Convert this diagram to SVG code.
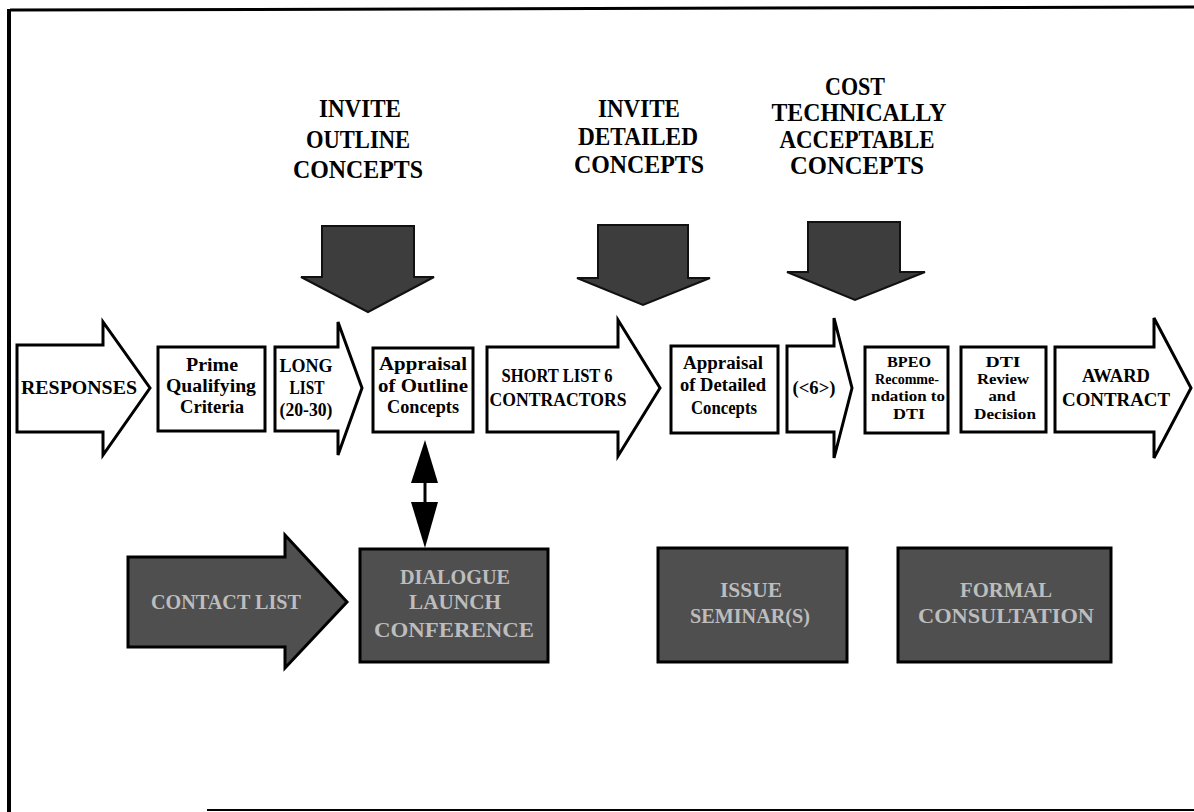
<svg xmlns="http://www.w3.org/2000/svg" width="1194" height="812" viewBox="0 0 1194 812">
<defs>
<style>
.frame{stroke:#000;fill:none}
.wshape{fill:#fff;stroke:#000;stroke-width:3;stroke-linejoin:miter}
.dshape{fill:#4f4f4f;stroke:#000;stroke-width:3}
.darrow{fill:#3d3d3d;stroke:#111;stroke-width:2}
.t{font-family:"Liberation Serif","Times New Roman",serif;font-weight:bold;fill:#000;text-anchor:middle;dominant-baseline:central}
.m{font-size:18px}
.s{font-size:15px}
.h{font-size:25px}
.l{font-family:"Liberation Serif","Times New Roman",serif;font-weight:bold;fill:#bdbdbd;text-anchor:middle;dominant-baseline:central;font-size:21px}
</style>
</defs>
<rect width="1194" height="812" fill="#fff"/>
<g id="frame">
<line class="frame" x1="10" y1="10" x2="1194" y2="7" stroke-width="3"/>
<line class="frame" x1="9" y1="9" x2="9" y2="812" stroke-width="4"/>
<line class="frame" x1="207" y1="810" x2="1194" y2="810" stroke-width="2"/>
</g>
<g id="label-outline">
<text class="t h" x="360" y="108" textLength="82" lengthAdjust="spacingAndGlyphs">INVITE</text>
<text class="t h" x="358" y="139" textLength="104" lengthAdjust="spacingAndGlyphs">OUTLINE</text>
<text class="t h" x="358" y="169" textLength="130" lengthAdjust="spacingAndGlyphs">CONCEPTS</text>
</g>
<g id="label-detailed">
<text class="t h" x="639" y="108" textLength="82" lengthAdjust="spacingAndGlyphs">INVITE</text>
<text class="t h" x="638" y="136" textLength="120" lengthAdjust="spacingAndGlyphs">DETAILED</text>
<text class="t h" x="639" y="164" textLength="130" lengthAdjust="spacingAndGlyphs">CONCEPTS</text>
</g>
<g id="label-cost">
<text class="t h" x="855" y="86" textLength="60" lengthAdjust="spacingAndGlyphs">COST</text>
<text class="t h" x="859" y="112" textLength="175" lengthAdjust="spacingAndGlyphs">TECHNICALLY</text>
<text class="t h" x="857" y="139" textLength="155" lengthAdjust="spacingAndGlyphs">ACCEPTABLE</text>
<text class="t h" x="857" y="165" textLength="134" lengthAdjust="spacingAndGlyphs">CONCEPTS</text>
</g>
<g id="down-arrow-1"><path class="darrow" d="M322,226 H414 V277 H434 L368,312 L301,277 H322 Z"/></g>
<g id="down-arrow-2"><path class="darrow" d="M598,225 H688 V278 H710 L643,305 L577,278 H598 Z"/></g>
<g id="down-arrow-3"><path class="darrow" d="M808,222 H900 V272 H925 L855,300 L787,272 H808 Z"/></g>
<g id="responses">
<path class="wshape" d="M17,345 H103 V322 L150,388 L103,455 V432 H17 Z"/>
<text class="t m" x="79" y="388" textLength="116" lengthAdjust="spacingAndGlyphs">RESPONSES</text>
</g>
<g id="prime">
<rect class="wshape" x="158" y="347" width="107" height="84"/>
<text class="t m" x="212" y="365" textLength="52" lengthAdjust="spacingAndGlyphs">Prime</text>
<text class="t m" x="211" y="386" textLength="90" lengthAdjust="spacingAndGlyphs">Qualifying</text>
<text class="t m" x="212" y="407" textLength="64" lengthAdjust="spacingAndGlyphs">Criteria</text>
</g>
<g id="longlist">
<path class="wshape" d="M275,347 H338 V322 L362,388 L338,455 V431 H275 Z"/>
<text class="t m" x="306" y="366" textLength="53" lengthAdjust="spacingAndGlyphs">LONG</text>
<text class="t m" x="307" y="388" textLength="35" lengthAdjust="spacingAndGlyphs">LIST</text>
<text class="t m" x="306" y="410" textLength="53" lengthAdjust="spacingAndGlyphs">(20-30)</text>
</g>
<g id="appraisal-outline">
<rect class="wshape" x="373" y="348" width="100" height="84"/>
<text class="t m" x="423" y="364" textLength="88" lengthAdjust="spacingAndGlyphs">Appraisal</text>
<text class="t m" x="423" y="386" textLength="90" lengthAdjust="spacingAndGlyphs">of Outline</text>
<text class="t m" x="423" y="407" textLength="72" lengthAdjust="spacingAndGlyphs">Concepts</text>
</g>
<g id="shortlist">
<path class="wshape" d="M487,347 H618 V320 L660,388 L618,456 V432 H487 Z"/>
<text class="t m" x="557" y="376" textLength="111" lengthAdjust="spacingAndGlyphs">SHORT LIST 6</text>
<text class="t m" x="558" y="400" textLength="137" lengthAdjust="spacingAndGlyphs">CONTRACTORS</text>
</g>
<g id="appraisal-detailed">
<rect class="wshape" x="671" y="346" width="107" height="87"/>
<text class="t m" x="723" y="363" textLength="80" lengthAdjust="spacingAndGlyphs">Appraisal</text>
<text class="t m" x="723" y="385" textLength="86" lengthAdjust="spacingAndGlyphs">of Detailed</text>
<text class="t m" x="724" y="408" textLength="66" lengthAdjust="spacingAndGlyphs">Concepts</text>
</g>
<g id="lt6">
<path class="wshape" d="M787,346 H834 V318 L852,388 L834,458 V432 H787 Z"/>
<text class="t m" x="814" y="388" textLength="43" lengthAdjust="spacingAndGlyphs">(&lt;6&gt;)</text>
</g>
<g id="bpeo">
<rect class="wshape" x="865" y="347" width="83" height="86"/>
<text class="t s" x="909" y="362" textLength="44" lengthAdjust="spacingAndGlyphs">BPEO</text>
<text class="t s" x="907" y="379" textLength="64" lengthAdjust="spacingAndGlyphs">Recomme-</text>
<text class="t s" x="908" y="396" textLength="74" lengthAdjust="spacingAndGlyphs">ndation to</text>
<text class="t s" x="909" y="414" textLength="32" lengthAdjust="spacingAndGlyphs">DTI</text>
</g>
<g id="dti-review">
<rect class="wshape" x="961" y="347" width="85" height="85"/>
<text class="t s" x="1003" y="362" textLength="35" lengthAdjust="spacingAndGlyphs">DTI</text>
<text class="t s" x="1003" y="379" textLength="52" lengthAdjust="spacingAndGlyphs">Review</text>
<text class="t s" x="1002" y="396" textLength="27" lengthAdjust="spacingAndGlyphs">and</text>
<text class="t s" x="1005" y="414" textLength="62" lengthAdjust="spacingAndGlyphs">Decision</text>
</g>
<g id="award">
<path class="wshape" d="M1055,347 H1154 V318 L1191,388 L1154,458 V432 H1055 Z"/>
<text class="t m" x="1116" y="376" textLength="68" lengthAdjust="spacingAndGlyphs">AWARD</text>
<text class="t m" x="1116" y="400" textLength="108" lengthAdjust="spacingAndGlyphs">CONTRACT</text>
</g>
<g id="connectors">
<line x1="425" y1="478" x2="425" y2="506" stroke="#000" stroke-width="3"/>
<path d="M425,440 L438,483 H411 Z" fill="#000"/>
<path d="M411,502 H438 L425,548 Z" fill="#000"/>
</g>
<g id="contact-list">
<path class="dshape" d="M128,557 H285 V535 L347,602 L285,668 V647 H128 Z"/>
<text class="l" x="226" y="602" textLength="150" lengthAdjust="spacingAndGlyphs">CONTACT LIST</text>
</g>
<g id="dialogue">
<rect class="dshape" x="360" y="549" width="188" height="113"/>
<text class="l" x="455" y="577" textLength="110" lengthAdjust="spacingAndGlyphs">DIALOGUE</text>
<text class="l" x="455" y="602" textLength="92" lengthAdjust="spacingAndGlyphs">LAUNCH</text>
<text class="l" x="454" y="630" textLength="160" lengthAdjust="spacingAndGlyphs">CONFERENCE</text>
</g>
<g id="issue-seminars">
<rect class="dshape" x="658" y="548" width="189" height="114"/>
<text class="l" x="751" y="590" textLength="62" lengthAdjust="spacingAndGlyphs">ISSUE</text>
<text class="l" x="750" y="616" textLength="120" lengthAdjust="spacingAndGlyphs">SEMINAR(S)</text>
</g>
<g id="formal-consultation">
<rect class="dshape" x="898" y="548" width="213" height="114"/>
<text class="l" x="1006" y="590" textLength="92" lengthAdjust="spacingAndGlyphs">FORMAL</text>
<text class="l" x="1006" y="616" textLength="176" lengthAdjust="spacingAndGlyphs">CONSULTATION</text>
</g>
</svg>
